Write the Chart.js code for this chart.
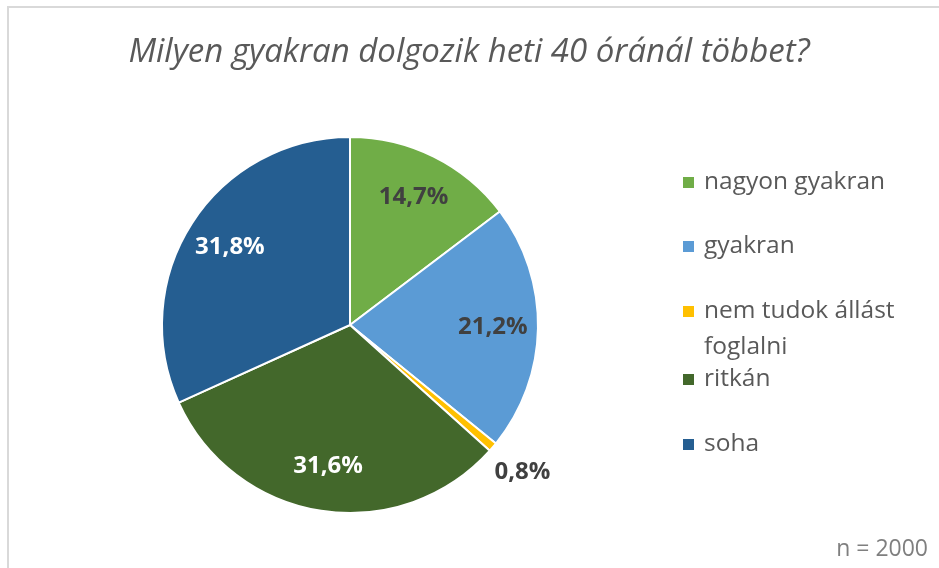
<!DOCTYPE html>
<html>
<head>
<meta charset="utf-8">
<script src="https://cdn.jsdelivr.net/npm/chart.js@4.4.1/dist/chart.umd.min.js"></script>
<style>
    html, body { margin: 0; padding: 0; background: #fff; }
    #wrap { width: 939px; height: 568px; position: relative; }
</style>
</head>
<body>
<div id="wrap"><canvas id="pieChart" width="939" height="568"></canvas></div>
<script>
// Chart data
const chartTitle = 'Milyen gyakran dolgozik heti 40 óránál többet?';
const categories = ['nagyon gyakran', 'gyakran', 'nem tudok állást foglalni', 'ritkán', 'soha'];
const legendLines = [['nagyon gyakran'], ['gyakran'], ['nem tudok állást', 'foglalni'], ['ritkán'], ['soha']];
const shares = [14.7, 21.2, 0.8, 31.6, 31.8];
const sliceColors = ['#70AD47', '#5B9BD5', '#FFC000', '#43682B', '#255E91'];
const labelColors = ['#404040', '#404040', '#404040', '#ffffff', '#ffffff'];
const sampleNote = 'n = 2000';

const FONT = '"Open Sans", "DejaVu Sans", sans-serif';

const decorPlugin = {
    id: 'decor',
    beforeDraw(chart) {
        const c = chart.ctx;
        c.save();
        c.fillStyle = '#ffffff';
        c.fillRect(0, 0, chart.width, chart.height);
        c.strokeStyle = '#d9d9d9';
        c.lineWidth = 2;
        c.beginPath();
        c.moveTo(8, chart.height + 2);
        c.lineTo(8, 7);
        c.lineTo(chart.width + 2, 7);
        c.stroke();
        c.restore();
    },
    afterDraw(chart) {
        const c = chart.ctx;
        c.save();

        // title
        c.fillStyle = '#595959';
        c.font = 'italic 33px ' + FONT;
        c.textAlign = 'center';
        c.textBaseline = 'alphabetic';
        c.fillText(chartTitle, 469, 62);

        // data labels
        const meta = chart.getDatasetMeta(0);
        c.font = 'bold 24px ' + FONT;
        c.textBaseline = 'middle';
        meta.data.forEach((arc, i) => {
            const mid = (arc.startAngle + arc.endAngle) / 2;
            const inside = shares[i] > 5;
            const r = inside ? arc.outerRadius * 0.76 : arc.outerRadius + 39;
            const x = arc.x + Math.cos(mid) * r;
            const y = arc.y + Math.sin(mid) * r;
            c.fillStyle = labelColors[i];
            c.fillText(shares[i].toFixed(1).replace('.', ',') + '%', x, y);
        });

        // legend
        c.textAlign = 'left';
        c.font = '24.5px ' + FONT;
        const legendY = [182, 246, 311, 379, 444];
        legendLines.forEach((lines, i) => {
            c.fillStyle = sliceColors[i];
            c.fillRect(683, legendY[i] - 5, 11, 11);
            c.fillStyle = '#595959';
            lines.forEach((t, j) => c.fillText(t, 704, legendY[i] + j * 36));
        });

        // sample size
        c.fillStyle = '#7f7f7f';
        c.font = '23px ' + FONT;
        c.textAlign = 'right';
        c.fillText(sampleNote, 928, 549);
        c.restore();
    }
};

new Chart(document.getElementById('pieChart').getContext('2d'), {
    type: 'pie',
    data: {
        labels: categories,
        datasets: [{
            data: shares,
            backgroundColor: sliceColors,
            borderColor: '#ffffff',
            borderWidth: 2
        }]
    },
    options: {
        responsive: false,
        animation: false,
        layout: { padding: { top: 136, bottom: 54, left: 161, right: 400 } },
        plugins: {
            legend: { display: false },
            tooltip: { enabled: false }
        }
    },
    plugins: [decorPlugin]
});
</script>
</body>
</html>
